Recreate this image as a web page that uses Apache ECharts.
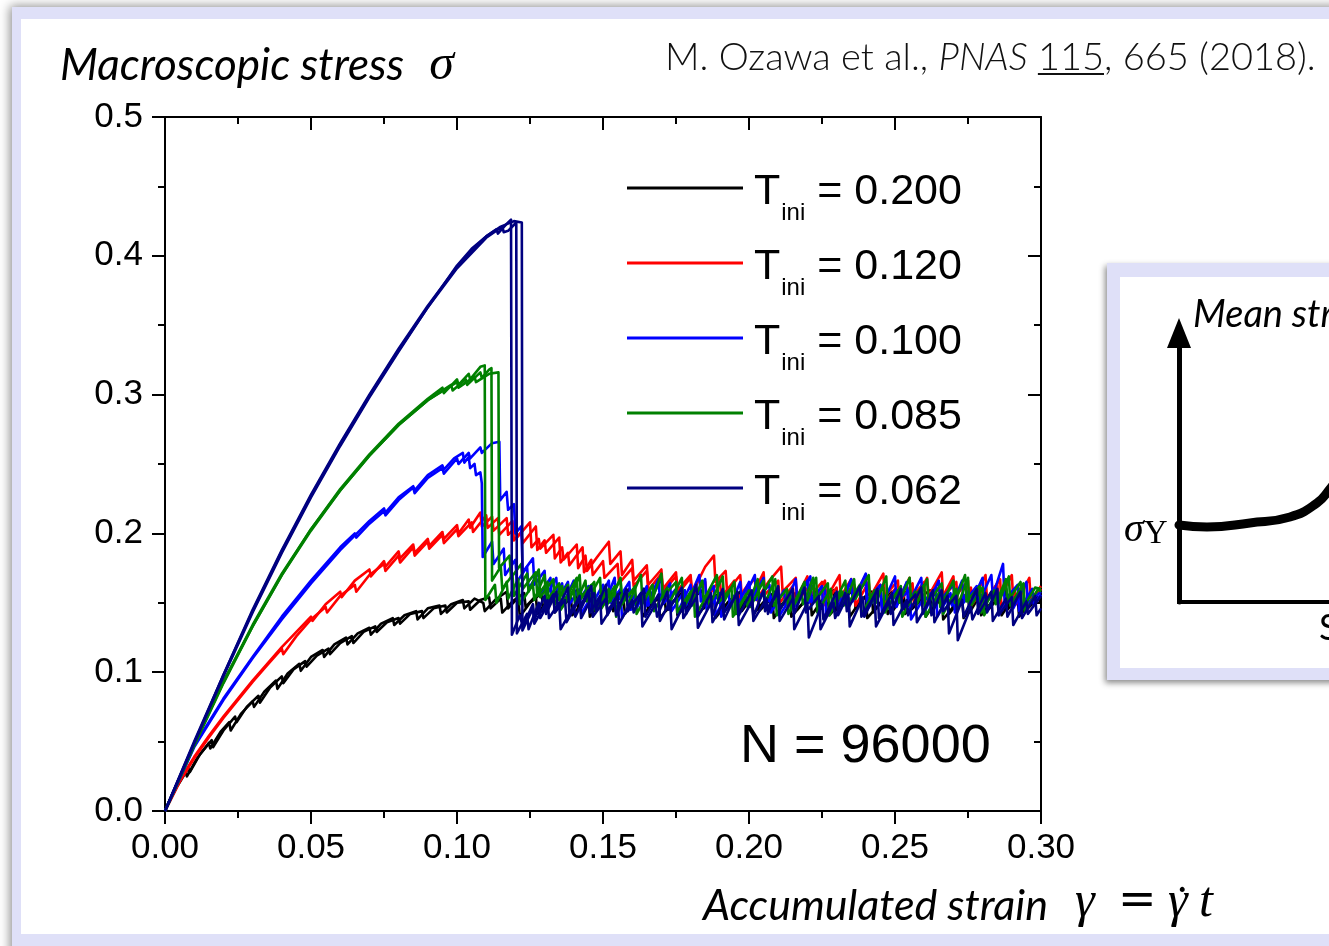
<!DOCTYPE html>
<html><head><meta charset="utf-8">
<script src="https://cdn.jsdelivr.net/npm/echarts@6/dist/echarts.min.js"></script>
<style>html,body{margin:0;padding:0;background:#fff;}#c{width:1329px;height:946px;}</style>
</head><body><div id="c"></div>
<script>
// ---------------- DATA ----------------
const xTickLabels = ['0.00','0.05','0.10','0.15','0.20','0.25','0.30'];
const yTickLabels = ['0.0','0.1','0.2','0.3','0.4','0.5'];
const legendTemps = ['0.200','0.120','0.100','0.085','0.062'];

// T_ini = 0.200 (black)
const black_a = [[0,0],[0.004,0.017],[0.008,0.031],[0.0085,0.028],[0.012,0.041],[0.016,0.051],[0.0165,0.046],[0.02,0.058],[0.024,0.068],[0.0245,0.064],[0.028,0.075],[0.032,0.083],[0.0325,0.078],[0.036,0.089],[0.04,0.097],[0.0405,0.092],[0.044,0.102],[0.048,0.108],[0.0485,0.104],[0.052,0.112],[0.056,0.117],[0.0565,0.113],[0.06,0.121],[0.064,0.126],[0.0645,0.121],[0.068,0.129],[0.072,0.133],[0.0725,0.129],[0.076,0.136],[0.08,0.139],[0.0805,0.135],[0.084,0.142],[0.088,0.144],[0.0885,0.139],[0.092,0.146],[0.096,0.148],[0.0965,0.143],[0.1,0.150],[0.104,0.151],[0.1045,0.145],[0.108,0.152],[0.111,0.154],[0.1115,0.146],[0.115,0.153],[0.1155,0.143],[0.119,0.151],[0.123,0.157],[0.1235,0.147],[0.127,0.155],[0.1275,0.142],[0.131,0.151],[0.135,0.158],[0.1355,0.146],[0.139,0.154],[0.1395,0.141],[0.143,0.150],[0.147,0.157],[0.1475,0.145],[0.151,0.156],[0.1515,0.143],[0.155,0.152],[0.159,0.160],[0.1595,0.147],[0.163,0.155],[0.1635,0.140],[0.167,0.150],[0.171,0.158],[0.1715,0.144],[0.175,0.153],[0.1755,0.141],[0.18,0.152],[0.184,0.159],[0.1845,0.146],[0.188,0.155],[0.1885,0.139],[0.193,0.151],[0.197,0.158],[0.1975,0.144],[0.201,0.154],[0.2015,0.142],[0.206,0.153],[0.21,0.160],[0.2105,0.147],[0.214,0.156],[0.2145,0.140],[0.219,0.151],[0.223,0.158],[0.2235,0.143],[0.227,0.154],[0.2275,0.141],[0.232,0.152],[0.236,0.160],[0.2365,0.146],[0.24,0.155],[0.2405,0.139],[0.245,0.150],[0.249,0.158],[0.2495,0.145],[0.253,0.156],[0.2535,0.142],[0.258,0.153],[0.262,0.159],[0.2625,0.144],[0.266,0.154],[0.2665,0.138],[0.271,0.150],[0.275,0.157],[0.2755,0.143],[0.279,0.155],[0.2795,0.141],[0.284,0.153],[0.288,0.160],[0.2885,0.145],[0.292,0.154],[0.2925,0.140],[0.297,0.152],[0.3,0.155]];
const black_b = [[0,0],[0.003,0.014],[0.007,0.029],[0.0075,0.025],[0.011,0.038],[0.015,0.049],[0.0155,0.045],[0.019,0.057],[0.022,0.064],[0.0225,0.058],[0.026,0.070],[0.03,0.079],[0.0305,0.075],[0.034,0.086],[0.038,0.094],[0.0385,0.088],[0.042,0.099],[0.046,0.106],[0.0465,0.101],[0.05,0.111],[0.054,0.116],[0.0545,0.111],[0.058,0.120],[0.062,0.125],[0.0625,0.120],[0.066,0.128],[0.07,0.132],[0.0705,0.127],[0.074,0.135],[0.078,0.139],[0.0785,0.134],[0.082,0.141],[0.086,0.144],[0.0865,0.138],[0.09,0.146],[0.094,0.148],[0.0945,0.142],[0.098,0.149],[0.102,0.152],[0.1025,0.146],[0.106,0.153],[0.109,0.150],[0.1095,0.144],[0.113,0.152],[0.117,0.158],[0.1175,0.146],[0.121,0.154],[0.1215,0.140],[0.125,0.150],[0.129,0.157],[0.1295,0.144],[0.133,0.154],[0.1335,0.143],[0.137,0.153],[0.141,0.159],[0.1415,0.146],[0.145,0.155],[0.1455,0.140],[0.149,0.150],[0.153,0.157],[0.1535,0.144],[0.157,0.153],[0.1575,0.142],[0.161,0.152],[0.165,0.158],[0.1655,0.145],[0.169,0.154],[0.1695,0.139],[0.174,0.151],[0.178,0.159],[0.1785,0.146],[0.182,0.155],[0.1825,0.141],[0.186,0.151],[0.19,0.157],[0.1905,0.143],[0.195,0.155],[0.1955,0.142],[0.199,0.152],[0.203,0.159],[0.2035,0.144],[0.208,0.154],[0.2085,0.139],[0.212,0.150],[0.216,0.157],[0.2165,0.145],[0.221,0.156],[0.2215,0.141],[0.225,0.152],[0.229,0.159],[0.2295,0.144],[0.234,0.154],[0.2345,0.140],[0.238,0.151],[0.242,0.158],[0.2425,0.143],[0.247,0.155],[0.2475,0.142],[0.251,0.153],[0.255,0.160],[0.2555,0.145],[0.26,0.154],[0.2605,0.140],[0.264,0.151],[0.268,0.157],[0.2685,0.142],[0.273,0.154],[0.2735,0.139],[0.277,0.150],[0.281,0.158],[0.2815,0.144],[0.286,0.155],[0.2865,0.141],[0.29,0.152],[0.294,0.159],[0.2945,0.144],[0.299,0.153],[0.3,0.150]];

// T_ini = 0.120 (red)
const red_a = [[0,0],[0.005,0.022],[0.01,0.039],[0.015,0.054],[0.02,0.068],[0.025,0.081],[0.03,0.094],[0.035,0.106],[0.04,0.118],[0.045,0.129],[0.05,0.140],[0.0505,0.137],[0.055,0.149],[0.06,0.158],[0.0605,0.154],[0.065,0.166],[0.07,0.174],[0.0705,0.169],[0.075,0.180],[0.0755,0.176],[0.08,0.187],[0.0805,0.182],[0.085,0.192],[0.0855,0.186],[0.09,0.196],[0.0905,0.191],[0.095,0.201],[0.0955,0.196],[0.1,0.206],[0.1005,0.200],[0.104,0.210],[0.1045,0.204],[0.108,0.215],[0.1085,0.205],[0.112,0.212],[0.1125,0.202],[0.117,0.211],[0.1175,0.199],[0.12,0.204],[0.1205,0.197],[0.125,0.208],[0.1255,0.190],[0.128,0.196],[0.1285,0.189],[0.133,0.199],[0.1335,0.182],[0.136,0.190],[0.1365,0.181],[0.141,0.192],[0.1415,0.175],[0.144,0.184],[0.1445,0.173],[0.148,0.183],[0.152,0.194],[0.1525,0.178],[0.156,0.187],[0.1565,0.170],[0.16,0.181],[0.1605,0.166],[0.165,0.177],[0.1655,0.163],[0.17,0.174],[0.1705,0.160],[0.175,0.172],[0.1755,0.159],[0.18,0.170],[0.1805,0.157],[0.185,0.176],[0.188,0.184],[0.1885,0.165],[0.192,0.173],[0.1925,0.158],[0.197,0.170],[0.1975,0.155],[0.202,0.168],[0.2025,0.152],[0.207,0.166],[0.211,0.176],[0.2115,0.158],[0.216,0.168],[0.2165,0.151],[0.221,0.163],[0.2215,0.149],[0.226,0.166],[0.2265,0.153],[0.231,0.170],[0.2315,0.152],[0.236,0.163],[0.2365,0.148],[0.241,0.165],[0.2415,0.154],[0.246,0.171],[0.2465,0.155],[0.251,0.166],[0.2515,0.150],[0.256,0.164],[0.2565,0.149],[0.261,0.168],[0.2615,0.155],[0.266,0.172],[0.2665,0.154],[0.271,0.165],[0.2715,0.147],[0.276,0.161],[0.2765,0.150],[0.281,0.170],[0.2815,0.153],[0.286,0.167],[0.2865,0.145],[0.291,0.160],[0.2915,0.149],[0.296,0.168],[0.2965,0.152],[0.3,0.162]];
const red_b = [[0,0],[0.005,0.021],[0.01,0.038],[0.015,0.053],[0.02,0.067],[0.025,0.080],[0.03,0.093],[0.035,0.105],[0.04,0.117],[0.0405,0.113],[0.045,0.126],[0.05,0.138],[0.055,0.147],[0.0555,0.143],[0.06,0.155],[0.065,0.163],[0.0655,0.158],[0.07,0.170],[0.075,0.178],[0.0755,0.173],[0.08,0.184],[0.0805,0.179],[0.085,0.190],[0.0855,0.184],[0.09,0.194],[0.0905,0.189],[0.095,0.199],[0.0955,0.193],[0.1,0.203],[0.1005,0.198],[0.105,0.208],[0.1055,0.201],[0.11,0.213],[0.1105,0.204],[0.114,0.211],[0.1145,0.199],[0.119,0.209],[0.1195,0.195],[0.122,0.201],[0.1225,0.193],[0.127,0.205],[0.1275,0.188],[0.13,0.195],[0.1305,0.186],[0.135,0.197],[0.1355,0.179],[0.138,0.186],[0.1385,0.177],[0.143,0.190],[0.1435,0.172],[0.146,0.181],[0.1465,0.170],[0.15,0.180],[0.1505,0.168],[0.155,0.178],[0.1555,0.164],[0.16,0.175],[0.1605,0.162],[0.165,0.173],[0.1655,0.159],[0.17,0.171],[0.1705,0.158],[0.175,0.169],[0.1755,0.156],[0.18,0.168],[0.1805,0.155],[0.185,0.165],[0.1855,0.153],[0.19,0.167],[0.1905,0.154],[0.195,0.166],[0.1955,0.151],[0.2,0.164],[0.2005,0.152],[0.205,0.172],[0.2055,0.156],[0.21,0.166],[0.2105,0.150],[0.215,0.162],[0.2155,0.150],[0.22,0.169],[0.2205,0.154],[0.225,0.165],[0.2255,0.148],[0.23,0.161],[0.2305,0.151],[0.235,0.167],[0.2355,0.152],[0.24,0.170],[0.2405,0.151],[0.245,0.163],[0.2455,0.147],[0.25,0.160],[0.2505,0.150],[0.255,0.168],[0.2555,0.153],[0.26,0.165],[0.2605,0.148],[0.265,0.161],[0.2655,0.151],[0.27,0.169],[0.2705,0.154],[0.275,0.166],[0.2755,0.146],[0.28,0.160],[0.2805,0.149],[0.285,0.164],[0.2855,0.152],[0.29,0.170],[0.2905,0.152],[0.295,0.164],[0.2955,0.149],[0.3,0.160]];

// T_ini = 0.100 (blue)
const blue_a = [[0,0],[0.01,0.046],[0.02,0.080],[0.03,0.110],[0.04,0.138],[0.05,0.164],[0.06,0.188],[0.07,0.209],[0.075,0.218],[0.0755,0.215],[0.08,0.226],[0.085,0.234],[0.0855,0.231],[0.09,0.242],[0.095,0.249],[0.0955,0.246],[0.099,0.254],[0.102,0.258],[0.1025,0.251],[0.104,0.255],[0.1045,0.247],[0.106,0.250],[0.1065,0.242],[0.108,0.244],[0.1085,0.236],[0.1088,0.183],[0.112,0.194],[0.1125,0.178],[0.116,0.189],[0.1165,0.170],[0.12,0.181],[0.1205,0.165],[0.124,0.176],[0.1245,0.160],[0.128,0.172],[0.1285,0.156],[0.132,0.168],[0.1325,0.151],[0.136,0.164],[0.1365,0.150],[0.14,0.166],[0.1405,0.148],[0.145,0.162],[0.1455,0.146],[0.15,0.163],[0.1505,0.149],[0.154,0.168],[0.1545,0.150],[0.159,0.165],[0.1595,0.145],[0.164,0.160],[0.1645,0.147],[0.169,0.167],[0.1695,0.152],[0.173,0.164],[0.1735,0.144],[0.178,0.159],[0.1785,0.148],[0.183,0.170],[0.1835,0.151],[0.188,0.162],[0.1885,0.141],[0.193,0.158],[0.1935,0.147],[0.197,0.165],[0.1975,0.150],[0.202,0.170],[0.2025,0.152],[0.207,0.163],[0.2075,0.143],[0.212,0.159],[0.2125,0.148],[0.216,0.167],[0.2165,0.153],[0.221,0.169],[0.2215,0.150],[0.226,0.161],[0.2265,0.142],[0.231,0.158],[0.2315,0.148],[0.235,0.166],[0.2355,0.151],[0.24,0.171],[0.2405,0.152],[0.245,0.163],[0.2455,0.144],[0.25,0.159],[0.2505,0.147],[0.254,0.165],[0.2545,0.149],[0.259,0.168],[0.2595,0.150],[0.264,0.161],[0.2645,0.140],[0.269,0.157],[0.2695,0.148],[0.273,0.166],[0.2735,0.150],[0.278,0.162],[0.2785,0.149],[0.283,0.170],[0.2835,0.155],[0.287,0.178],[0.2875,0.152],[0.292,0.163],[0.2925,0.144],[0.297,0.160],[0.2975,0.149],[0.3,0.156]];
const blue_b = [[0,0],[0.01,0.047],[0.02,0.081],[0.03,0.111],[0.04,0.140],[0.05,0.166],[0.06,0.190],[0.065,0.200],[0.0655,0.197],[0.07,0.207],[0.075,0.216],[0.0755,0.213],[0.08,0.224],[0.085,0.233],[0.0855,0.229],[0.09,0.240],[0.095,0.247],[0.0955,0.243],[0.1,0.254],[0.1005,0.250],[0.104,0.258],[0.1045,0.254],[0.108,0.262],[0.1085,0.258],[0.112,0.265],[0.1145,0.266],[0.1148,0.224],[0.117,0.230],[0.1175,0.217],[0.1195,0.221],[0.12,0.200],[0.122,0.205],[0.1225,0.172],[0.126,0.182],[0.1265,0.163],[0.13,0.173],[0.1305,0.155],[0.134,0.168],[0.1345,0.152],[0.138,0.165],[0.1385,0.149],[0.142,0.160],[0.1425,0.142],[0.147,0.158],[0.1475,0.146],[0.152,0.166],[0.1525,0.150],[0.156,0.160],[0.1565,0.139],[0.161,0.156],[0.1615,0.146],[0.165,0.162],[0.1655,0.148],[0.17,0.168],[0.1705,0.149],[0.175,0.160],[0.1755,0.143],[0.18,0.163],[0.1805,0.150],[0.185,0.167],[0.1855,0.145],[0.19,0.157],[0.1905,0.140],[0.195,0.155],[0.1955,0.146],[0.2,0.165],[0.2005,0.151],[0.205,0.168],[0.2055,0.149],[0.21,0.159],[0.2105,0.141],[0.215,0.156],[0.2155,0.147],[0.22,0.166],[0.2205,0.150],[0.225,0.162],[0.2255,0.139],[0.23,0.155],[0.2305,0.146],[0.235,0.167],[0.2355,0.153],[0.24,0.165],[0.2405,0.145],[0.245,0.160],[0.2455,0.148],[0.25,0.169],[0.2505,0.151],[0.255,0.159],[0.2555,0.138],[0.26,0.154],[0.2605,0.145],[0.265,0.166],[0.2655,0.152],[0.27,0.163],[0.2705,0.143],[0.275,0.158],[0.2755,0.147],[0.28,0.168],[0.2805,0.150],[0.285,0.160],[0.2855,0.141],[0.29,0.157],[0.2905,0.146],[0.295,0.165],[0.2955,0.150],[0.3,0.158]];

// T_ini = 0.085 (green)
const green_a = [[0,0],[0.01,0.048],[0.02,0.093],[0.03,0.134],[0.04,0.171],[0.05,0.203],[0.06,0.232],[0.07,0.257],[0.08,0.279],[0.09,0.297],[0.095,0.305],[0.0955,0.301],[0.1,0.311],[0.1005,0.307],[0.104,0.315],[0.1045,0.311],[0.108,0.320],[0.1095,0.321],[0.1097,0.152],[0.113,0.163],[0.1135,0.150],[0.117,0.165],[0.1175,0.153],[0.121,0.167],[0.1215,0.149],[0.126,0.163],[0.1265,0.152],[0.13,0.170],[0.1305,0.151],[0.135,0.164],[0.1355,0.145],[0.14,0.160],[0.1405,0.148],[0.144,0.166],[0.1445,0.151],[0.149,0.168],[0.1495,0.146],[0.154,0.162],[0.1545,0.140],[0.158,0.158],[0.1585,0.148],[0.163,0.170],[0.1635,0.150],[0.167,0.163],[0.1675,0.144],[0.172,0.161],[0.1725,0.149],[0.177,0.168],[0.1775,0.146],[0.181,0.160],[0.1815,0.140],[0.186,0.157],[0.1865,0.148],[0.191,0.169],[0.1915,0.151],[0.195,0.165],[0.1955,0.142],[0.2,0.159],[0.2005,0.147],[0.205,0.166],[0.2055,0.150],[0.209,0.167],[0.2095,0.141],[0.214,0.158],[0.2145,0.146],[0.219,0.165],[0.2195,0.149],[0.223,0.168],[0.2235,0.143],[0.228,0.160],[0.2285,0.147],[0.233,0.166],[0.2335,0.148],[0.238,0.163],[0.2385,0.141],[0.243,0.159],[0.2435,0.150],[0.247,0.169],[0.2475,0.147],[0.252,0.162],[0.2525,0.140],[0.257,0.158],[0.2575,0.149],[0.261,0.167],[0.2615,0.150],[0.266,0.164],[0.2665,0.142],[0.271,0.160],[0.2715,0.148],[0.275,0.168],[0.2755,0.146],[0.28,0.161],[0.2805,0.141],[0.285,0.158],[0.2855,0.150],[0.289,0.169],[0.2895,0.148],[0.294,0.164],[0.2945,0.143],[0.299,0.160],[0.3,0.158]];
const green_b = [[0,0],[0.01,0.047],[0.02,0.092],[0.03,0.133],[0.04,0.170],[0.05,0.202],[0.06,0.231],[0.07,0.256],[0.08,0.278],[0.09,0.296],[0.098,0.307],[0.0985,0.303],[0.103,0.311],[0.1035,0.307],[0.108,0.316],[0.1085,0.312],[0.111,0.318],[0.1118,0.319],[0.112,0.166],[0.115,0.176],[0.1155,0.160],[0.119,0.170],[0.1195,0.155],[0.124,0.171],[0.1245,0.158],[0.128,0.174],[0.1285,0.154],[0.133,0.167],[0.1335,0.149],[0.138,0.163],[0.1385,0.152],[0.142,0.170],[0.1425,0.153],[0.147,0.165],[0.1475,0.144],[0.152,0.160],[0.1525,0.151],[0.156,0.168],[0.1565,0.149],[0.161,0.162],[0.1615,0.142],[0.166,0.159],[0.1665,0.150],[0.17,0.171],[0.1705,0.154],[0.175,0.165],[0.1755,0.143],[0.18,0.158],[0.1805,0.148],[0.184,0.166],[0.1845,0.152],[0.189,0.170],[0.1895,0.150],[0.194,0.161],[0.1945,0.140],[0.199,0.156],[0.1995,0.147],[0.203,0.167],[0.2035,0.152],[0.208,0.169],[0.2085,0.148],[0.213,0.160],[0.2135,0.142],[0.218,0.157],[0.2185,0.149],[0.222,0.168],[0.2225,0.151],[0.227,0.164],[0.2275,0.141],[0.232,0.158],[0.2325,0.148],[0.236,0.167],[0.2365,0.153],[0.241,0.170],[0.2415,0.149],[0.246,0.161],[0.2465,0.143],[0.251,0.159],[0.2515,0.150],[0.255,0.168],[0.2555,0.152],[0.26,0.163],[0.2605,0.140],[0.265,0.157],[0.2655,0.147],[0.27,0.166],[0.2705,0.150],[0.274,0.170],[0.2745,0.151],[0.279,0.162],[0.2795,0.143],[0.284,0.159],[0.2845,0.149],[0.288,0.167],[0.2885,0.151],[0.293,0.165],[0.2935,0.145],[0.298,0.161],[0.3,0.160]];
const green_c = [[0,0],[0.01,0.048],[0.02,0.093],[0.03,0.133],[0.04,0.170],[0.05,0.203],[0.06,0.231],[0.07,0.256],[0.08,0.278],[0.09,0.296],[0.1,0.309],[0.1005,0.305],[0.106,0.313],[0.1065,0.309],[0.111,0.315],[0.1142,0.316],[0.1144,0.175],[0.118,0.184],[0.1185,0.168],[0.122,0.178],[0.1225,0.160],[0.127,0.172],[0.1275,0.155],[0.131,0.165],[0.1315,0.148],[0.136,0.162],[0.1365,0.150],[0.141,0.168],[0.1415,0.152],[0.146,0.163],[0.1465,0.145],[0.151,0.158],[0.1515,0.149],[0.156,0.167],[0.1565,0.151],[0.161,0.160]];

// T_ini = 0.062 (navy)
const navy_a = [[0,0],[0.01,0.049],[0.02,0.097],[0.03,0.143],[0.04,0.186],[0.05,0.226],[0.06,0.263],[0.07,0.298],[0.08,0.331],[0.09,0.363],[0.1,0.393],[0.105,0.405],[0.11,0.414],[0.1135,0.419],[0.114,0.416],[0.117,0.423],[0.1185,0.426],[0.1188,0.127],[0.1215,0.141],[0.1225,0.133],[0.126,0.149],[0.1265,0.138],[0.13,0.155],[0.1305,0.142],[0.134,0.158],[0.1345,0.146],[0.138,0.161],[0.1385,0.141],[0.142,0.155],[0.1425,0.139],[0.147,0.157],[0.1475,0.145],[0.151,0.163],[0.1515,0.141],[0.155,0.156],[0.1555,0.135],[0.16,0.152],[0.1605,0.143],[0.164,0.160],[0.1645,0.140],[0.169,0.156],[0.1695,0.137],[0.173,0.151],[0.1735,0.131],[0.178,0.150],[0.1785,0.142],[0.182,0.163],[0.1825,0.140],[0.187,0.157],[0.1875,0.136],[0.191,0.149],[0.1915,0.138],[0.196,0.158],[0.1965,0.141],[0.201,0.159],[0.2015,0.137],[0.206,0.153],[0.2065,0.142],[0.21,0.162],[0.2105,0.145],[0.215,0.160],[0.2155,0.131],[0.22,0.150],[0.2205,0.125],[0.225,0.149],[0.2255,0.138],[0.23,0.158],[0.2305,0.141],[0.234,0.156],[0.2345,0.133],[0.239,0.154],[0.2395,0.140],[0.244,0.160],[0.2445,0.139],[0.249,0.157],[0.2495,0.134],[0.254,0.152],[0.2545,0.141],[0.259,0.161],[0.2595,0.142],[0.263,0.159],[0.2635,0.136],[0.268,0.155],[0.2685,0.128],[0.273,0.152],[0.2735,0.140],[0.278,0.160],[0.2785,0.142],[0.283,0.158],[0.2835,0.137],[0.288,0.153],[0.2885,0.140],[0.293,0.158],[0.2935,0.139],[0.298,0.155],[0.2985,0.141],[0.3,0.146]];
const navy_b = [[0,0],[0.01,0.050],[0.02,0.098],[0.03,0.145],[0.04,0.188],[0.05,0.228],[0.06,0.265],[0.07,0.300],[0.08,0.333],[0.09,0.364],[0.1,0.392],[0.105,0.404],[0.11,0.414],[0.115,0.421],[0.1195,0.425],[0.1222,0.424],[0.1224,0.130],[0.126,0.146],[0.1265,0.135],[0.131,0.152],[0.1315,0.139],[0.135,0.150],[0.1355,0.131],[0.14,0.148],[0.1405,0.140],[0.145,0.159],[0.1455,0.143],[0.149,0.155],[0.1495,0.135],[0.154,0.150],[0.1545,0.141],[0.158,0.160],[0.1585,0.144],[0.163,0.157],[0.1635,0.133],[0.168,0.149],[0.1685,0.140],[0.172,0.158],[0.1725,0.145],[0.177,0.161],[0.1775,0.139],[0.182,0.154],[0.1825,0.132],[0.187,0.150],[0.1875,0.141],[0.191,0.160],[0.1915,0.143],[0.196,0.156],[0.1965,0.134],[0.201,0.151],[0.2015,0.140],[0.205,0.159],[0.2055,0.144],[0.21,0.157],[0.2105,0.137],[0.215,0.153],[0.2155,0.142],[0.219,0.161],[0.2195,0.143],[0.224,0.155],[0.2245,0.131],[0.229,0.150],[0.2295,0.139],[0.233,0.157],[0.2335,0.144],[0.238,0.162],[0.2385,0.140],[0.243,0.155],[0.2435,0.133],[0.248,0.151],[0.2485,0.142],[0.252,0.160],[0.2525,0.145],[0.257,0.156],[0.2575,0.136],[0.262,0.152],[0.2625,0.141],[0.266,0.159],[0.2665,0.144],[0.271,0.155],[0.2715,0.123],[0.276,0.147],[0.2765,0.138],[0.281,0.157],[0.2815,0.143],[0.285,0.160],[0.2855,0.141],[0.29,0.154],[0.2905,0.134],[0.295,0.151],[0.2955,0.142],[0.3,0.155]];
const navy_c = [[0,0],[0.01,0.049],[0.02,0.098],[0.03,0.144],[0.04,0.187],[0.05,0.227],[0.06,0.264],[0.07,0.299],[0.08,0.332],[0.09,0.363],[0.1,0.391],[0.11,0.413],[0.1155,0.421],[0.116,0.417],[0.1175,0.418],[0.1203,0.424],[0.1205,0.128],[0.124,0.142],[0.1245,0.131],[0.128,0.150],[0.1285,0.139],[0.133,0.156],[0.1335,0.143],[0.137,0.152],[0.1375,0.136],[0.142,0.153],[0.1425,0.146],[0.146,0.162],[0.1465,0.140],[0.151,0.153],[0.1515,0.144],[0.156,0.158]];

// inset sketch: mean stress curve (schematic)
const inset_curve = [[0,0.286],[0.07,0.279],[0.1775,0.294],[0.2775,0.316],[0.345,0.368],[0.375,0.416],[0.41,0.49]];

// ---------------- STYLE / BUILD ----------------
const seriesColors = ['#000000','#ff0000','#0000ff','#008000','#000080'];
const runsByTemp = [[black_a,black_b],[red_a,red_b],[blue_a,blue_b],[green_a,green_b,green_c],[navy_a,navy_b,navy_c]];
const legendName = t => 'Tini = ' + t;

const series = [];
runsByTemp.forEach((runs, i) => {
  runs.forEach(run => {
    series.push({
      type:'line', name: legendName(legendTemps[i]), data: run,
      xAxisIndex:0, yAxisIndex:0, showSymbol:false, symbol:'none',
      lineStyle:{color: seriesColors[i], width:2.6, join:'round'}, itemStyle:{color: seriesColors[i]},
      z: 2 + i, silent:true
    });
  });
});
series.push({type:'line', name:'inset', data: inset_curve, xAxisIndex:2, yAxisIndex:2, smooth:true,
  showSymbol:false, symbol:'none', lineStyle:{color:'#000', width:9, cap:'round'}, silent:true});

// text measurement helpers
const mctx = document.createElement('canvas').getContext('2d');
function tw(font, s){ mctx.font = font; return mctx.measureText(s).width; }
const narrowOK = tw('40px "Liberation Sans Narrow", monospace','0.00 0.05') !== tw('40px monospace','0.00 0.05');
const tickFont = narrowOK ? {fontFamily:'Liberation Sans Narrow', fontSize:40} : {fontFamily:'Liberation Sans', fontSize:35};

const citeX = 665, citeSize = 38;
const fA = '300 ' + citeSize + 'px Lato', fI = 'italic 300 ' + citeSize + 'px Lato';
const ulX0 = citeX + tw(fA,'M. Ozawa et al., ') + tw(fI,'PNAS') + tw(fA,' ');
const ulW = tw(fA,'115');

// math part of x title
const mathFont = 'italic 50px "Liberation Serif"';
const gX1 = 1075, eqX = 1118, gX2 = 1168;
const gW = tw(mathFont, 'γ');
const tX = 1199;

const axisBase = {
  type:'value',
  axisLine:{show:true, onZero:false, lineStyle:{color:'#000', width:2}},
  splitLine:{show:false}
};
const tickStyle = {color:'#000', width:2};
const labelFont = Object.assign({color:'#000'}, tickFont);

const chart = echarts.init(document.getElementById('c'), null, {renderer:'canvas'});
chart.setOption({
  animation:false,
  backgroundColor:'transparent',
  grid:[
    {left:165, top:117, width:876, height:694, outerBoundsMode:'none', containLabel:false},
    {left:1179, top:333, width:400, height:269, outerBoundsMode:'none', containLabel:false}
  ],
  xAxis:[
    Object.assign({}, axisBase, {gridIndex:0, position:'bottom', min:0, max:0.3, interval:0.05,
      axisTick:{show:true, length:13, lineStyle:tickStyle},
      minorTick:{show:true, splitNumber:2, length:7, lineStyle:tickStyle},
      axisLabel:Object.assign({show:true, margin:20, showMinLabel:true, showMaxLabel:true,
        formatter:(v,i)=>xTickLabels[i]}, labelFont)}),
    Object.assign({}, axisBase, {gridIndex:0, position:'top', min:0, max:0.3, interval:0.05,
      axisTick:{show:true, inside:true, length:13, lineStyle:tickStyle},
      minorTick:{show:true, splitNumber:2, length:7, lineStyle:tickStyle},
      axisLabel:{show:false}}),
    {type:'value', gridIndex:1, min:0, max:1, position:'bottom',
      axisLine:{show:true, onZero:false, lineStyle:{color:'#000', width:4, cap:'square'}},
      axisTick:{show:false}, axisLabel:{show:false}, splitLine:{show:false}}
  ],
  yAxis:[
    Object.assign({}, axisBase, {gridIndex:0, position:'left', min:0, max:0.5, interval:0.1,
      axisTick:{show:true, length:13, lineStyle:tickStyle},
      minorTick:{show:true, splitNumber:2, length:7, lineStyle:tickStyle},
      axisLabel:Object.assign({show:true, margin:22, showMinLabel:true, showMaxLabel:true,
        formatter:(v,i)=>yTickLabels[i]}, labelFont)}),
    Object.assign({}, axisBase, {gridIndex:0, position:'right', min:0, max:0.5, interval:0.1,
      axisTick:{show:true, inside:true, length:13, lineStyle:tickStyle},
      minorTick:{show:true, splitNumber:2, length:7, lineStyle:tickStyle},
      axisLabel:{show:false}}),
    {type:'value', gridIndex:1, min:0, max:1, position:'left',
      axisLine:{show:true, onZero:false, symbol:['none','triangle'], symbolSize:[24,30],
        lineStyle:{color:'#000', width:5}},
      axisTick:{show:false}, axisLabel:{show:false}, splitLine:{show:false}}
  ],
  legend:{
    show:true, orient:'vertical', left:627, top:166, padding:0, itemGap:5,
    data: legendTemps.map(legendName), icon:'rect', itemWidth:116, itemHeight:3,
    selectedMode:false,
    formatter: name => { const v = name.split('= ')[1]; return '{t|T}{s|ini}{v| = ' + v + '}'; },
    textStyle:{color:'#000', rich:{
      t:{fontFamily:'Liberation Sans', fontSize:43, lineHeight:44, verticalAlign:'top', padding:[5,0,0,6], color:'#000'},
      s:{fontFamily:'Liberation Sans', fontSize:24, lineHeight:24, verticalAlign:'top', padding:[35,0,11,1], color:'#000'},
      v:{fontFamily:'Liberation Sans', fontSize:43, lineHeight:44, verticalAlign:'top', padding:[5,0,0,0], color:'#000'}
    }}
  },
  graphic:{elements:[
    // slide frame
    {type:'rect', z:-20, silent:true, shape:{x:12,y:7,width:1400,height:960},
      style:{fill:'#dfe0f8', shadowBlur:10, shadowColor:'rgba(0,0,0,0.45)', shadowOffsetX:-2, shadowOffsetY:-1}},
    {type:'rect', z:-19, silent:true, shape:{x:21,y:19,width:1400,height:915}, style:{fill:'#ffffff'}},
    // inset frame
    {type:'rect', z:-18, silent:true, shape:{x:1107,y:263,width:400,height:417},
      style:{fill:'#dfe0f8', shadowBlur:6, shadowColor:'rgba(0,0,0,0.45)', shadowOffsetX:-2, shadowOffsetY:3}},
    {type:'rect', z:-17, silent:true, shape:{x:1120,y:277,width:400,height:391}, style:{fill:'#ffffff'}},
    // y title
    {type:'text', z:50, silent:true, style:{x:60, y:66, verticalAlign:'middle',
      text:'{a|Macroscopic stress}{m|  σ}',
      rich:{a:{fontFamily:'Lato', fontStyle:'italic', fontSize:44, fill:'#000'},
            m:{fontFamily:'Liberation Serif', fontStyle:'italic', fontSize:50, fill:'#000'}}}},
    // citation
    {type:'text', z:50, silent:true, style:{x:citeX, y:58, verticalAlign:'middle',
      text:'{a|M. Ozawa et al., }{i|PNAS}{a| 115, 665 (2018).}',
      rich:{a:{fontFamily:'Lato', fontWeight:300, fontSize:citeSize, fill:'#111'},
            i:{fontFamily:'Lato', fontWeight:300, fontStyle:'italic', fontSize:citeSize, fill:'#111'}}}},
    {type:'rect', z:50, silent:true, shape:{x:ulX0, y:73, width:ulW, height:2}, style:{fill:'#111'}},
    // N = 96000
    {type:'text', z:50, silent:true, style:{x:740, y:747, verticalAlign:'middle',
      text:'N = 96000', fontFamily:'Liberation Sans', fontSize:54, fill:'#000'}},
    // x title
    {type:'text', z:50, silent:true, style:{x:703, y:906, verticalAlign:'middle',
      text:'Accumulated strain', fontFamily:'Lato', fontStyle:'italic', fontSize:43, fill:'#000'}},
    {type:'text', z:50, silent:true, style:{x:gX1, y:903, verticalAlign:'middle',
      text:'γ', font:mathFont, fill:'#000'}},
    {type:'text', z:50, silent:true, style:{x:eqX, y:902, verticalAlign:'middle',
      text:'=', fontFamily:'DejaVu Serif', fontSize:46, fill:'#000'}},
    {type:'text', z:50, silent:true, style:{x:gX2, y:903, verticalAlign:'middle',
      text:'γ', font:mathFont, fill:'#000'}},
    {type:'text', z:50, silent:true, style:{x:gX2 + gW*0.72, y:910, align:'center', verticalAlign:'middle',
      text:'˙', fontFamily:'DejaVu Serif', fontSize:44, fill:'#000'}},
    {type:'text', z:50, silent:true, style:{x:tX, y:903, verticalAlign:'middle',
      text:'t', font:mathFont, fill:'#000'}},
    // inset texts
    {type:'text', z:50, silent:true, style:{x:1193, y:315, verticalAlign:'middle',
      text:'Mean stress', fontFamily:'Lato', fontStyle:'italic', fontSize:38, fill:'#000'}},
    {type:'text', z:50, silent:true, style:{x:1124, y:530, verticalAlign:'middle',
      text:'{s|σ}{y|Y}',
      rich:{s:{fontFamily:'Liberation Serif', fontStyle:'italic', fontSize:40, fill:'#000'},
            y:{fontFamily:'Liberation Serif', fontSize:33, fill:'#000', padding:[8,0,0,0]}}}},
    {type:'text', z:50, silent:true, style:{x:1319, y:628, verticalAlign:'middle',
      text:'Strain', fontFamily:'Lato', fontSize:36, fill:'#000'}}
  ]},
  series: series
});
</script></body></html>
